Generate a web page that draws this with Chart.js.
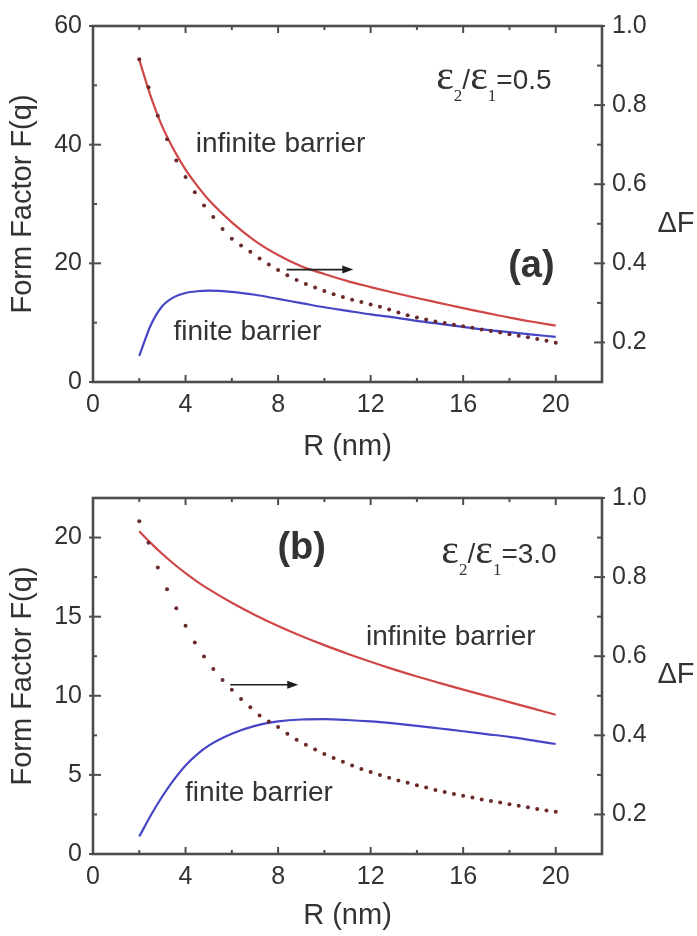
<!DOCTYPE html>
<html><head><meta charset="utf-8">
<script src="https://cdn.jsdelivr.net/npm/chart.js@4.4.1/dist/chart.umd.min.js"></script>
<style>
html,body{margin:0;padding:0;background:#fff;overflow:hidden;width:697px;height:936px;}
#ca{position:absolute;left:0;top:0;}
#cb{position:absolute;left:0;top:472px;}
</style></head><body>
<canvas id="ca" width="697" height="468"></canvas>
<canvas id="cb" width="697" height="464"></canvas>
<script>
// ---------- data ----------
const R_LINE = [2,2.5,3,3.5,4,4.5,5,6,7,8,9,10,11,12,13,14,15,16,17,18,19,20];
const A_INF = [54.3,48.1,43.0,39.1,35.8,33.1,30.7,26.9,23.8,21.4,19.5,18.2,17.0,16.0,15.05,14.15,13.3,12.45,11.65,10.85,10.15,9.5];
const A_FIN = [4.4,9.6,12.8,14.3,15.0,15.3,15.4,15.2,14.7,14.0,13.3,12.6,12.0,11.4,10.9,10.3,9.8,9.3,8.8,8.4,8.0,7.6];
const B_INF = [20.4,19.65,18.96,18.33,17.75,17.22,16.74,15.88,15.11,14.41,13.78,13.2,12.66,12.15,11.67,11.22,10.8,10.39,9.99,9.6,9.2,8.8];
const B_FIN = [1.1,2.45,3.65,4.7,5.6,6.3,6.85,7.6,8.1,8.38,8.5,8.52,8.47,8.38,8.25,8.1,7.93,7.76,7.58,7.4,7.18,6.95];

const R_DOT = [2,2.4,2.8,3.2,3.6,4,4.4,4.8,5.2,5.6,6,6.4,6.8,7.2,7.6,8,8.4,8.8,9.2,9.6,10,10.4,10.8,11.2,11.6,12,12.4,12.8,13.2,13.6,14,14.4,14.8,15.2,15.6,16,16.4,16.8,17.2,17.6,18,18.4,18.8,19.2,19.6,20];
const A_DF = [.916,.845,.773,.714,.660,.618,.580,.546,.517,.487,.462,.445,.429,.412,.397,.383,.370,.358,.348,.339,.330,.322,.315,.308,.302,.296,.290,.283,.276,.269,.263,.258,.253,.249,.245,.241,.237,.233,.229,.225,.221,.217,.213,.209,.204,.199];
const B_DF = [.941,.887,.824,.769,.721,.677,.635,.599,.568,.540,.515,.492,.471,.450,.435,.421,.404,.389,.376,.364,.353,.343,.333,.324,.315,.307,.300,.293,.286,.280,.274,.268,.262,.257,.252,.247,.243,.238,.234,.230,.226,.222,.218,.214,.210,.207];

const X_TICKS = [0,4,8,12,16,20];
const X_MINOR = [2,6,10,14,18];
const A_Y_TICKS = [0,20,40,60];
const A_Y_MINOR = [10,30,50];
const B_Y_TICKS = [0,5,10,15,20];
const B_Y_MINOR = [2.5,7.5,12.5,17.5];
const R_TICKS = [0.2,0.4,0.6,0.8,1.0];
const R_MINOR = [0.3,0.5,0.7,0.9];

// ---------- styles ----------
const SANS = '"Liberation Sans", Arial, Helvetica, sans-serif';
const SERIF = '"Liberation Serif", "DejaVu Serif", "Times New Roman", serif';
const AXC = '#4d4d4d';
const TXT = '#333333';
const RED = '#d04646';
const BLUE = '#4545c6';
const DOT = '#6a2a2a';

function pts(xs, ys){ return xs.map((x,i)=>({x:x, y:ys[i]})); }

function drawEps(ctx, xr, yb, val){
  const big = '42px ' + SERIF, sub = '17px ' + SERIF, sans = '28px ' + SANS;
  const pieces = [['\u03B5',big,0],['2',sub,12],['/',sans,0],['\u03B5',big,0],['1',sub,12],['='+val,sans,0]];
  let total = 0;
  pieces.forEach(p=>{ ctx.font = p[1]; p.push(ctx.measureText(p[0]).width); total += p[3]; });
  let x = xr - total;
  ctx.textAlign = 'left'; ctx.textBaseline = 'alphabetic';
  pieces.forEach(p=>{ ctx.font = p[1]; ctx.fillText(p[0], x, yb + p[2]); x += p[3]; });
}

const deco = {
  id: 'deco',
  afterDraw(chart, args, o){
    const {ctx, chartArea: ca, scales} = chart;
    const x = scales.x, y = scales.y, y2 = scales.y2;
    ctx.save();
    ctx.strokeStyle = AXC; ctx.lineCap = 'butt';
    const seg = (x1,y1,x2,y2_)=>{ ctx.beginPath(); ctx.moveTo(x1,y1); ctx.lineTo(x2,y2_); ctx.stroke(); };
    ctx.lineWidth = 2;
    X_TICKS.forEach(v=>{ const p = x.getPixelForValue(v); seg(p, ca.bottom, p, ca.bottom-7); seg(p, ca.top, p, ca.top+7); });
    X_MINOR.forEach(v=>{ const p = x.getPixelForValue(v); seg(p, ca.bottom, p, ca.bottom-4); seg(p, ca.top, p, ca.top+4); });
    o.yTicks.forEach(v=>{ const p = y.getPixelForValue(v); seg(ca.left-4, p, ca.left+8, p); });
    o.yMinor.forEach(v=>{ const p = y.getPixelForValue(v); seg(ca.left, p, ca.left+4, p); });
    R_TICKS.forEach(v=>{ const p = y2.getPixelForValue(v); seg(ca.right+3, p, ca.right-8, p); });
    R_MINOR.forEach(v=>{ const p = y2.getPixelForValue(v); seg(ca.right, p, ca.right-5, p); });
    ctx.lineWidth = 2.6;
    ctx.strokeRect(ca.left, ca.top, ca.width, ca.height);

    // texts
    ctx.fillStyle = TXT;
    o.texts.forEach(t=>{
      ctx.font = t.font; ctx.textAlign = t.align || 'left'; ctx.textBaseline = t.base || 'alphabetic';
      ctx.fillText(t.t, x.getPixelForValue(t.x), y.getPixelForValue(t.y));
    });
    drawEps(ctx, x.getPixelForValue(o.eps.x), y.getPixelForValue(o.eps.y), o.eps.v);

    // arrow
    const ax1 = x.getPixelForValue(o.arrow.x1), ax2 = x.getPixelForValue(o.arrow.x2), ay = y.getPixelForValue(o.arrow.y);
    ctx.strokeStyle = '#1e1e1e'; ctx.fillStyle = '#1e1e1e'; ctx.lineWidth = 1.6;
    seg(ax1, ay, ax2 - 8, ay);
    ctx.beginPath(); ctx.moveTo(ax2, ay); ctx.lineTo(ax2 - 11, ay - 4); ctx.lineTo(ax2 - 11, ay + 4); ctx.closePath(); ctx.fill();
    ctx.restore();
  }
};

const NOGRID = { display: false, drawTicks: false, tickLength: 0 };

function makeChart(id, cfg){
  return new Chart(document.getElementById(id), {
    type: 'line',
    data: { datasets: [
      { label: 'dF', data: pts(R_DOT, cfg.df), yAxisID: 'y2', showLine: false,
        pointRadius: 2, pointBackgroundColor: DOT, pointBorderWidth: 0, pointHoverRadius: 0 },
      { label: 'infinite', data: pts(R_LINE, cfg.inf), yAxisID: 'y', borderColor: RED, borderWidth: 2.2,
        pointRadius: 0, cubicInterpolationMode: 'monotone', fill: false },
      { label: 'finite', data: pts(R_LINE, cfg.fin), yAxisID: 'y', borderColor: BLUE, borderWidth: 2.2,
        pointRadius: 0, cubicInterpolationMode: 'monotone', fill: false }
    ]},
    options: {
      responsive: false, animation: false, devicePixelRatio: 1,
      layout: { padding: { top: 25, left: 0, right: 0, bottom: 0 } },
      plugins: { legend: { display: false }, tooltip: { enabled: false }, deco: cfg.deco },
      scales: {
        x: { type: 'linear', position: 'bottom', min: 0, max: 22,
          afterFit: s => { s.height = cfg.xh; },
          afterBuildTicks: s => { s.ticks = X_TICKS.map(v=>({value:v})); },
          grid: NOGRID, border: { display: false },
          ticks: { font: { size: 25, family: SANS }, color: TXT, padding: 8, maxRotation: 0 },
          title: { display: true, text: 'R (nm)', font: { size: 29, family: SANS }, color: TXT,
                   padding: { top: 0, bottom: cfg.xtpad } } },
        y: { type: 'linear', position: 'left', min: cfg.ymin, max: cfg.ymax,
          afterFit: s => { s.width = 93; },
          afterBuildTicks: s => { s.ticks = cfg.deco.yTicks.map(v=>({value:v})); },
          grid: NOGRID, border: { display: false },
          ticks: { font: { size: 25, family: SANS }, color: TXT, padding: 11 },
          title: { display: true, text: 'Form Factor F(q)', font: { size: 29, family: SANS }, color: TXT,
                   padding: { top: 6, bottom: 0 } } },
        y2: { type: 'linear', position: 'right', min: 0.1, max: 1.0,
          afterFit: s => { s.width = 95; },
          afterBuildTicks: s => { s.ticks = R_TICKS.map(v=>({value:v})); },
          grid: NOGRID, border: { display: false },
          ticks: { font: { size: 25, family: SANS }, color: TXT, padding: 10, callback: v => v.toFixed(1) } }
      }
    },
    plugins: [deco]
  });
}

makeChart('ca', {
  inf: A_INF, fin: A_FIN, df: A_DF, ymin: 0, ymax: 60, xh: 86, xtpad: 4,
  deco: {
    yTicks: A_Y_TICKS, yMinor: A_Y_MINOR,
    texts: [
      { t: 'infinite barrier', x: 4.44, y: 38.8, font: '28px ' + SANS },
      { t: 'finite barrier', x: 3.48, y: 7.06, font: '28px ' + SANS },
      { t: '(a)', x: 18.95, y: 19.4, font: 'bold 38px ' + SANS, align: 'center', base: 'middle' },
      { t: '\u0394F', x: 25.2, y: 26.7, font: '29px ' + SANS, align: 'center', base: 'middle' }
    ],
    eps: { x: 19.82, y: 49.4, v: '0.5' },
    arrow: { x1: 8.37, x2: 11.25, y: 18.94 }
  }
});

makeChart('cb', {
  inf: B_INF, fin: B_FIN, df: B_DF, ymin: 0, ymax: 22.5, xh: 82, xtpad: 3,
  deco: {
    yTicks: B_Y_TICKS, yMinor: B_Y_MINOR,
    texts: [
      { t: 'infinite barrier', x: 11.8, y: 13.18, font: '28px ' + SANS },
      { t: 'finite barrier', x: 3.98, y: 3.34, font: '28px ' + SANS },
      { t: '(b)', x: 9.02, y: 19.29, font: 'bold 38px ' + SANS, align: 'center', base: 'middle' },
      { t: '\u0394F', x: 25.2, y: 11.29, font: '29px ' + SANS, align: 'center', base: 'middle' }
    ],
    eps: { x: 20.04, y: 18.41, v: '3.0' },
    arrow: { x1: 5.93, x2: 8.87, y: 10.7 }
  }
});
</script>
</body></html>
